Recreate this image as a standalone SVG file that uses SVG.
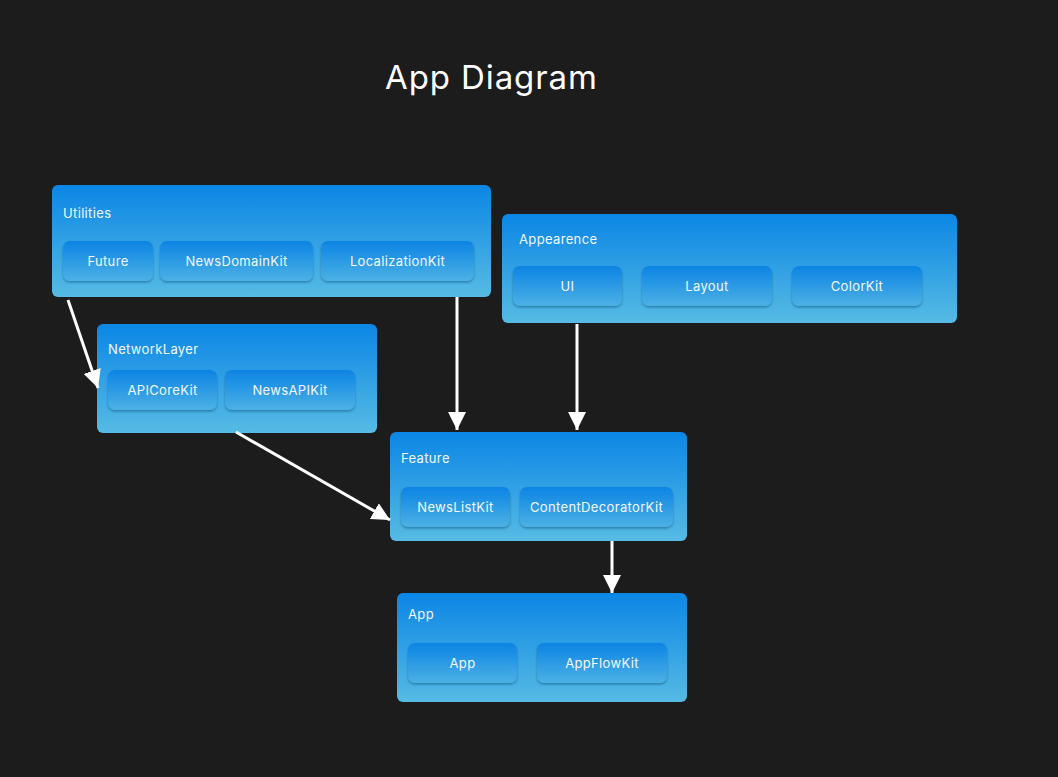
<svg xmlns="http://www.w3.org/2000/svg" width="1058" height="777" viewBox="0 0 1058 777">
<defs>
<linearGradient id="gOuter" x1="0" y1="0" x2="0" y2="1">
<stop offset="0" stop-color="#0b86e5"/>
<stop offset="1" stop-color="#56bbe4"/>
</linearGradient>
<linearGradient id="gInner" x1="0" y1="0" x2="0" y2="1">
<stop offset="0" stop-color="#0c84e4"/>
<stop offset="1" stop-color="#4cb1e4"/>
</linearGradient>
<filter id="sh" x="-10%" y="-20%" width="120%" height="150%">
<feDropShadow dx="0" dy="1.5" stdDeviation="1.2" flood-color="#0a3a60" flood-opacity="0.45"/>
</filter>
<marker id="ah" viewBox="0 0 10 10" refX="10" refY="5" markerUnits="userSpaceOnUse" markerWidth="18" markerHeight="18" orient="auto">
<path d="M0,0 L10,5 L0,10 Z" fill="#ffffff"/>
</marker>
<style>
.outer{fill:url(#gOuter);}
.inner{fill:url(#gInner);filter:url(#sh);}
.lbl{font-family:Inter,"Noto Sans","Liberation Sans",sans-serif;font-size:13px;letter-spacing:0.35px;fill:#f2f8fd;}
.it{font-family:Inter,"Noto Sans","Liberation Sans",sans-serif;font-size:13px;letter-spacing:0.35px;fill:#f2f8fd;text-anchor:middle;}
.title{font-family:Inter,"Noto Sans","Liberation Sans",sans-serif;font-size:33px;letter-spacing:0.9px;fill:#ffffff;}
.conn{stroke:#ffffff;stroke-width:3;fill:none;marker-end:url(#ah);}
</style>
</defs>
<rect x="0" y="0" width="1058" height="777" fill="#1c1c1c"/>
<text class="title" x="385" y="89">App Diagram</text>

<g id="utilities">
<rect class="outer" x="52" y="185" width="439" height="112" rx="6"/>
<text class="lbl" x="63" y="218">Utilities</text>
<rect class="inner" x="63" y="241" width="90" height="40" rx="7"/>
<text class="it" x="108" y="266">Future</text>
<rect class="inner" x="160" y="241" width="153" height="40" rx="7"/>
<text class="it" x="236.5" y="266">NewsDomainKit</text>
<rect class="inner" x="321" y="241" width="153" height="40" rx="7"/>
<text class="it" x="397.5" y="266">LocalizationKit</text>
</g>

<g id="appearence">
<rect class="outer" x="502" y="214" width="455" height="109" rx="6"/>
<text class="lbl" x="519" y="244">Appearence</text>
<rect class="inner" x="513" y="266" width="109" height="40" rx="7"/>
<text class="it" x="567.5" y="291">UI</text>
<rect class="inner" x="642" y="266" width="130" height="40" rx="7"/>
<text class="it" x="707" y="291">Layout</text>
<rect class="inner" x="792" y="266" width="130" height="40" rx="7"/>
<text class="it" x="857" y="291">ColorKit</text>
</g>

<g id="networklayer">
<rect class="outer" x="97" y="324" width="280" height="109" rx="6"/>
<text class="lbl" x="108" y="354">NetworkLayer</text>
<rect class="inner" x="108" y="370" width="109" height="40" rx="7"/>
<text class="it" x="162.5" y="395">APICoreKit</text>
<rect class="inner" x="225" y="370" width="130" height="40" rx="7"/>
<text class="it" x="290" y="395">NewsAPIKit</text>
</g>

<g id="feature">
<rect class="outer" x="390" y="432" width="297" height="109" rx="6"/>
<text class="lbl" x="401" y="463">Feature</text>
<rect class="inner" x="401" y="487" width="109" height="40" rx="7"/>
<text class="it" x="455.5" y="512">NewsListKit</text>
<rect class="inner" x="520" y="487" width="153" height="40" rx="7"/>
<text class="it" x="596.5" y="512">ContentDecoratorKit</text>
</g>

<g id="app">
<rect class="outer" x="397" y="593" width="290" height="109" rx="6"/>
<text class="lbl" x="408" y="619">App</text>
<rect class="inner" x="408" y="643" width="109" height="40" rx="7"/>
<text class="it" x="462.5" y="668">App</text>
<rect class="inner" x="537" y="643" width="130" height="40" rx="7"/>
<text class="it" x="602" y="668">AppFlowKit</text>
</g>

<g id="connectors">
<line class="conn" x1="68" y1="300" x2="98" y2="388"/>
<line class="conn" x1="236" y1="432" x2="390" y2="520"/>
<line class="conn" x1="457" y1="297" x2="457" y2="430"/>
<line class="conn" x1="577" y1="324" x2="577" y2="430"/>
<line class="conn" x1="612" y1="541" x2="612" y2="593"/>
</g>
</svg>
